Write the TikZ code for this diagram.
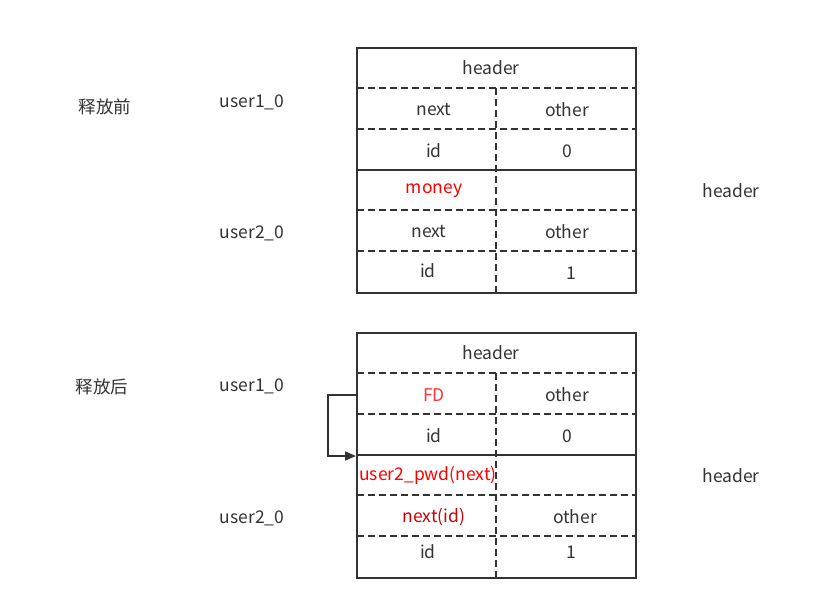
\documentclass[tikz,border=0pt]{standalone}
\usepackage{fontspec}
\setmainfont{Noto Sans CJK SC}
\usetikzlibrary{arrows.meta}
\definecolor{ink}{HTML}{333333}
\definecolor{red1}{HTML}{FF0000}
\definecolor{red2}{HTML}{FF3333}
\definecolor{red3}{HTML}{CC0000}
\tikzset{
  solidline/.style={draw=ink,line width=1.8pt},
  dashline/.style={draw=ink,line width=1.8pt,dash pattern=on 7pt off 4pt},
  txt/.style={text=ink,inner sep=0pt,font=\fontsize{17.5}{20}\selectfont},
  rtxt/.style={txt,text=red1},
}
\begin{document}
\begin{tikzpicture}[x=1pt,y=-1pt]
\useasboundingbox (0,0) rectangle (833,610);
% ---------- top table ----------
\foreach \yy in {88,129,210,251} \draw[dashline] (357,\yy) -- (636,\yy);
\draw[solidline] (357,170) -- (636,170);
\draw[dashline] (496,88) -- (496,293);
\draw[solidline] (357,48) rectangle (636,293);
\node[txt] (h1) at (491,68) {header};
\node[txt] (n1) at (434,110) {next};
\node[txt] (o1) at (567,110) {other};
\node[txt] (i1) at (434,151) {id};
\node[txt] (z1) at (567,151) {0};
\node[rtxt] (m1) at (434,191) {money};
\node[txt] (n2) at (429,232) {next};
\node[txt] (o2) at (567,232) {other};
\node[txt] (i2) at (428,271) {id};
\node[txt] (z2) at (571,273) {1};
\node[txt] (lb1) at (105,107) {释放前};
\node[txt] (u10) at (252,102) {user1\_0};
\node[txt] (u20) at (252,233) {user2\_0};
\node[txt] (hr1) at (731,191) {header};
% ---------- bottom table ----------
\foreach \yy in {373,414,495,536} \draw[dashline] (357,\yy) -- (636,\yy);
\draw[solidline] (357,455) -- (636,455);
\draw[dashline] (496,373) -- (496,578);
\draw[solidline] (357,333) rectangle (636,578);
\node[txt] (h2) at (491,353) {header};
\node[txt,text=red2] (fd) at (434,395) {FD};
\node[txt] (o3) at (567,395) {other};
\node[txt] (i3) at (434,436) {id};
\node[txt] (z3) at (567,436) {0};
\node[rtxt] (pw) at (428,475) {user2\_pwd(next)};
\node[txt,text=red3] (nid) at (434,517) {next(id)};
\node[txt] (o4) at (575,517) {other};
\node[txt] (i4) at (428,552) {id};
\node[txt] (z4) at (571,552) {1};
\node[txt] (lb2) at (102,387) {释放后};
\node[txt] (u11) at (252,386) {user1\_0};
\node[txt] (u21) at (252,518) {user2\_0};
\node[txt] (hr2) at (731,476) {header};
% ---------- arrow ----------
\coordinate (as) at (357,395);
\coordinate (ae) at (356,456);
\draw[draw=ink,line width=1.6pt,-{Triangle[length=11pt,width=9pt]}] (as) -- (328,395) -- (328,456) -- (ae);
\end{tikzpicture}
\end{document}
